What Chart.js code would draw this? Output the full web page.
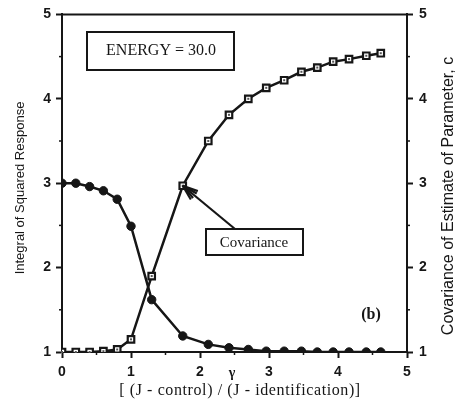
<!DOCTYPE html>
<html>
<head>
<meta charset="utf-8">
<script src="https://cdn.jsdelivr.net/npm/chart.js@4/dist/chart.umd.min.js"></script>
<style>
  html, body { margin: 0; padding: 0; background: #fff; }
  #wrap { width: 456px; height: 403px; }
</style>
</head>
<body>
<div id="wrap"><canvas id="c" width="456" height="403"></canvas></div>
<script>
// ---- data ----
const ratioX = [0, 0.2, 0.4, 0.6, 0.8, 1.0, 1.3, 1.75, 2.12, 2.42, 2.7, 2.96, 3.22, 3.47, 3.7, 3.93, 4.16, 4.41, 4.62];
const integralSquaredResponse = [3.0, 3.0, 2.96, 2.91, 2.81, 2.49, 1.62, 1.19, 1.09, 1.05, 1.03, 1.01, 1.01, 1.01, 1.0, 1.0, 1.0, 1.0, 1.0];
const covarianceC = [1.0, 1.0, 1.0, 1.01, 1.03, 1.15, 1.9, 2.97, 3.5, 3.81, 4.0, 4.13, 4.22, 4.32, 4.37, 4.44, 4.47, 4.51, 4.54];
const xTickValues = [0, 1, 2, 3, 4, 5];
const yTickValues = [1, 2, 3, 4, 5];
const leftTitle = 'Integral of Squared Response';
const rightTitle = 'Covariance of Estimate of Parameter, c';
const bottomTitle = '[ (J - control) / (J - identification)]';
const energyLabel = 'ENERGY = 30.0';
const covLabel = 'Covariance';
const panelLabel = '(b)';
const gammaLabel = 'γ';
const arrowPointIndex = 7;

const INK = '#161616';
const SANS = '"Liberation Sans", Arial, sans-serif';
const SERIF = '"Liberation Serif", "Times New Roman", serif';

const toPts = (ys) => ratioX.map((x, i) => ({ x, y: ys[i] }));

// small centre dot inside the square markers
const squareDots = {
  id: 'squareDots',
  afterDatasetsDraw(chart) {
    const ctx = chart.ctx;
    const meta = chart.getDatasetMeta(1);
    ctx.save();
    ctx.fillStyle = '#555';
    meta.data.forEach(p => { ctx.fillRect(p.x - 1, p.y - 1, 2, 2); });
    ctx.restore();
  }
};

const decor = {
  id: 'decor',
  afterDraw(chart) {
    const ctx = chart.ctx;
    const a = chart.chartArea;
    const xs = chart.scales.x, yl = chart.scales.y, yr = chart.scales.y2;
    ctx.save();
    ctx.strokeStyle = INK;
    ctx.fillStyle = INK;
    // top frame
    ctx.lineWidth = 2;
    ctx.beginPath();
    ctx.moveTo(a.left - 1, a.top);
    ctx.lineTo(a.right + 1, a.top);
    ctx.stroke();
    // minor ticks
    ctx.lineWidth = 1.5;
    for (let v = 0.5; v < 5; v += 1) {
      const px = xs.getPixelForValue(v);
      ctx.beginPath(); ctx.moveTo(px, a.bottom); ctx.lineTo(px, a.bottom + 3); ctx.stroke();
    }
    for (let v = 1.5; v < 5; v += 1) {
      const py = yl.getPixelForValue(v);
      ctx.beginPath(); ctx.moveTo(a.left, py); ctx.lineTo(a.left - 3, py); ctx.stroke();
      const py2 = yr.getPixelForValue(v);
      ctx.beginPath(); ctx.moveTo(a.right, py2); ctx.lineTo(a.right + 3, py2); ctx.stroke();
    }
    // titles
    ctx.textAlign = 'center';
    ctx.textBaseline = 'middle';
    ctx.save();
    ctx.translate(20, 188);
    ctx.rotate(-Math.PI / 2);
    ctx.font = '13px ' + SANS;
    ctx.fillText(leftTitle, 0, 0);
    ctx.restore();
    ctx.save();
    ctx.translate(449, 196);
    ctx.rotate(-Math.PI / 2);
    ctx.font = '16px ' + SANS;
    ctx.fillText(rightTitle, 0, 0);
    ctx.restore();
    ctx.save();
    ctx.font = '16px ' + SERIF;
    try { ctx.letterSpacing = '0.6px'; } catch (e) {}
    ctx.fillText(bottomTitle, 240, 391);
    ctx.restore();
    // gamma
    ctx.font = 'bold 14px ' + SERIF;
    ctx.fillText(gammaLabel, 232, 373);
    // energy box
    ctx.lineWidth = 2;
    ctx.strokeRect(87, 32, 147, 38);
    ctx.font = '16px ' + SERIF;
    ctx.fillText(energyLabel, 161, 51);
    // covariance box
    ctx.strokeRect(206, 229, 97, 26);
    ctx.font = '15px ' + SERIF;
    ctx.fillText(covLabel, 254, 243);
    // arrow
    const tx = xs.getPixelForValue(ratioX[arrowPointIndex]);
    const ty = yr.getPixelForValue(covarianceC[arrowPointIndex]);
    const sx = 235, sy = 229;
    ctx.lineWidth = 2.2;
    ctx.beginPath(); ctx.moveTo(sx, sy); ctx.lineTo(tx, ty); ctx.stroke();
    const ang = Math.atan2(ty - sy, tx - sx);
    const L = 16;
    [-0.35, -0.18, 0.18, 0.35].forEach(d => {
      ctx.beginPath();
      ctx.moveTo(tx, ty);
      ctx.lineTo(tx - L * Math.cos(ang + d), ty - L * Math.sin(ang + d));
      ctx.stroke();
    });
    // panel label
    ctx.font = 'bold 16px ' + SERIF;
    ctx.fillText(panelLabel, 371, 315);
    ctx.restore();
  }
};

const tickFont = { family: SANS, size: 14, weight: 'bold' };

new Chart(document.getElementById('c'), {
  type: 'scatter',
  data: {
    datasets: [
      {
        label: 'Integral of Squared Response',
        data: toPts(integralSquaredResponse),
        yAxisID: 'y',
        showLine: true,
        borderColor: INK,
        borderWidth: 2.5,
        pointStyle: 'circle',
        pointRadius: 4.2,
        pointBackgroundColor: INK,
        pointBorderColor: INK,
        pointBorderWidth: 1,
        tension: 0
      },
      {
        label: 'Covariance',
        data: toPts(covarianceC),
        yAxisID: 'y2',
        showLine: true,
        borderColor: INK,
        borderWidth: 2.5,
        pointStyle: 'rect',
        pointRadius: 4.6,
        pointBackgroundColor: '#fff',
        pointBorderColor: INK,
        pointBorderWidth: 2.2,
        tension: 0
      }
    ]
  },
  options: {
    responsive: false,
    animation: false,
    layout: { padding: { top: 14, right: 0, left: 0, bottom: 0 } },
    plugins: { legend: { display: false }, tooltip: { enabled: false } },
    scales: {
      x: {
        type: 'linear', position: 'bottom', min: 0, max: 5,
        afterBuildTicks: (s) => { s.ticks = xTickValues.map(v => ({ value: v })); },
        afterFit: (s) => { s.height = 51; },
        ticks: { color: INK, font: tickFont, padding: 6 },
        grid: { drawOnChartArea: false, tickLength: 6, tickWidth: 2, tickColor: INK },
        border: { color: INK, width: 2 }
      },
      y: {
        type: 'linear', position: 'left', min: 1, max: 5,
        afterBuildTicks: (s) => { s.ticks = yTickValues.map(v => ({ value: v })); },
        afterFit: (s) => { s.width = 62; },
        ticks: { color: INK, font: tickFont, padding: 5 },
        grid: { drawOnChartArea: false, tickLength: 6, tickWidth: 2, tickColor: INK },
        border: { color: INK, width: 2 }
      },
      y2: {
        type: 'linear', position: 'right', min: 1, max: 5,
        afterBuildTicks: (s) => { s.ticks = yTickValues.map(v => ({ value: v })); },
        afterFit: (s) => { s.width = 49; },
        ticks: { color: INK, font: tickFont, padding: 6 },
        grid: { drawOnChartArea: false, tickLength: 6, tickWidth: 2, tickColor: INK },
        border: { color: INK, width: 2 }
      }
    }
  },
  plugins: [squareDots, decor]
});
</script>
</body>
</html>
